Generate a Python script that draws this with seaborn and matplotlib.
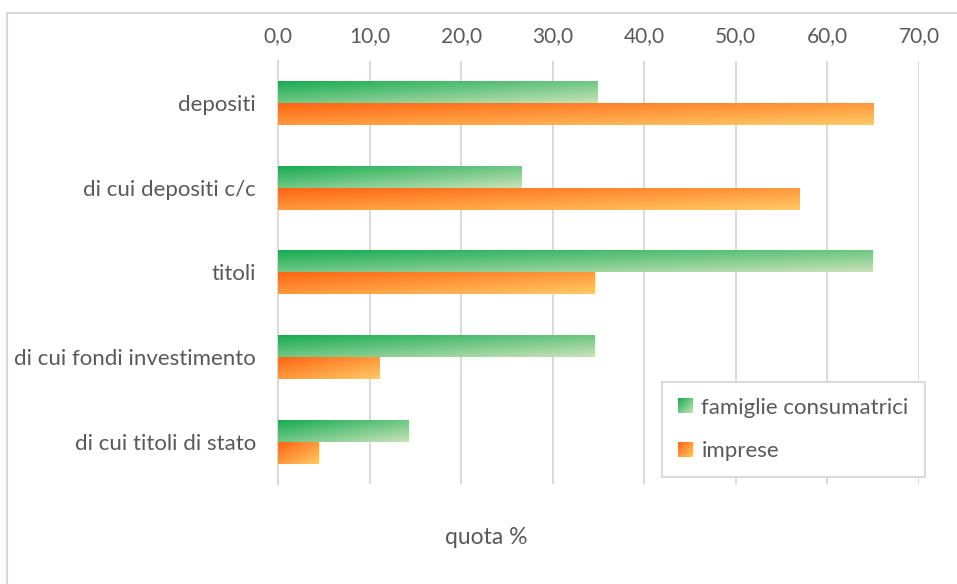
import numpy as np
import pandas as pd
import matplotlib
matplotlib.use("Agg")
import matplotlib.pyplot as plt
import seaborn as sns
from matplotlib.legend_handler import HandlerBase
from matplotlib.image import BboxImage
from matplotlib.transforms import Bbox, TransformedBbox
from matplotlib.lines import Line2D
from matplotlib.patches import Patch
from matplotlib.colors import to_rgb

# ---- data ----
categorie = ["depositi", "di cui depositi c/c", "titoli",
             "di cui fondi investimento", "di cui titoli di stato"]
famiglie = [34.9, 26.6, 64.9, 34.6, 14.3]
imprese = [65.0, 56.9, 34.6, 11.1, 4.4]
serie = ["famiglie consumatrici", "imprese"]
xticks = [0, 10, 20, 30, 40, 50, 60, 70]
xticklabels = ["0,0", "10,0", "20,0", "30,0", "40,0", "50,0", "60,0", "70,0"]
xlabel = "quota %"

# ---- styles ----
grad = {
    "famiglie consumatrici": ("#17AC52", "#C8E2B8"),
    "imprese": ("#FF6512", "#FFCA66"),
}
TXT = "#595959"
GRID = "#D9D9D9"

sns.set_theme(style="white")
plt.rcParams["font.family"] = ["Lato", "DejaVu Sans"]

df = pd.DataFrame({
    "categoria": categorie * 2,
    "quota": famiglie + imprese,
    "settore": [serie[0]] * len(categorie) + [serie[1]] * len(categorie),
})


def gradient_img(c0, c1, nx=256, ny=32):
    a = np.array(to_rgb(c0))
    b = np.array(to_rgb(c1))
    u = np.linspace(0, 1, nx)[None, :]
    v = np.linspace(0, 1, ny)[:, None]
    t = np.clip((u + v) / 2.0, 0, 1)[..., None]
    return a * (1 - t) + b * t


W, H = 957, 584
fig = plt.figure(figsize=(W / 100, H / 100), dpi=100)
fig.patch.set_facecolor("white")
ax = fig.add_axes([278 / W, 1 - 484 / H, (919 - 278) / W, (484 - 61) / H])

sns.barplot(data=df, y="categoria", x="quota", hue="settore", orient="h",
            order=categorie, hue_order=serie,
            palette=[grad[s][0] for s in serie],
            width=0.52, ax=ax, legend=False, saturation=1)

# replace flat fills by gradients
n = len(categorie)
for i, p in enumerate(list(ax.patches)):
    s = serie[i // n]
    x0, y0 = p.get_x(), p.get_y()
    w, h = p.get_width(), p.get_height()
    p.set_facecolor("none")
    p.set_edgecolor("none")
    img = gradient_img(*grad[s])
    ax.imshow(img, extent=[x0, x0 + w, y0 + h, y0], aspect="auto",
              interpolation="bilinear", zorder=3)

ax.set_xlim(0, 70)
ax.set_ylim(n - 0.5, -0.5)
ax.set_aspect("auto")

ax.xaxis.tick_top()
ax.set_xticks(xticks)
ax.set_xticklabels(xticklabels)
ax.tick_params(axis="x", length=0, pad=11, labelsize=15, colors=TXT)
ax.tick_params(axis="y", length=0, pad=16, labelsize=16, colors=TXT)
ax.set_xlabel("")
ax.set_ylabel("")
ax.grid(axis="x", color=GRID, linewidth=1.4, zorder=0)
ax.grid(axis="y", visible=False)
ax.set_axisbelow(True)
for sp in ["top", "right", "bottom"]:
    ax.spines[sp].set_visible(False)
ax.spines["left"].set_color(GRID)
ax.spines["left"].set_linewidth(1.4)


class GradHandler(HandlerBase):
    def create_artists(self, legend, orig_handle, xdescent, ydescent,
                       width, height, fontsize, trans):
        side = height * 1.0
        bb = Bbox.from_bounds(-xdescent + (width - side) / 2, -ydescent, side, side)
        tbb = TransformedBbox(bb, trans)
        im = BboxImage(tbb, interpolation="bilinear")
        im.set_data(gradient_img(*orig_handle.grad, nx=32, ny=32))
        return [im]


handles = []
for s in serie:
    hp = Patch(label=s)
    hp.grad = grad[s]
    handles.append(hp)

leg = fig.legend(handles=handles, labels=serie,
                 handler_map={Patch: GradHandler()},
                 loc="upper left", bbox_to_anchor=(662 / W, 1 - 382 / H),
                 frameon=True, fancybox=False, framealpha=1,
                 edgecolor=GRID, facecolor="white",
                 fontsize=16, labelcolor=TXT,
                 handlelength=0.6, handleheight=0.6, handletextpad=0.45,
                 labelspacing=1.05, borderpad=0.72, borderaxespad=0)
leg.get_frame().set_linewidth(1.4)

fig.text(486 / W, 1 - 537 / H, xlabel, ha="center", va="center",
         fontsize=16.5, color=TXT)

# outer chart frame
fig.add_artist(Line2D([7 / W, 7 / W], [1 - 13 / H, 0], transform=fig.transFigure,
                      color=GRID, linewidth=1.5))
fig.add_artist(Line2D([7 / W, 1], [1 - 13 / H, 1 - 13 / H], transform=fig.transFigure,
                      color=GRID, linewidth=1.5))

fig.savefig("out.png", dpi=100, facecolor="white")
